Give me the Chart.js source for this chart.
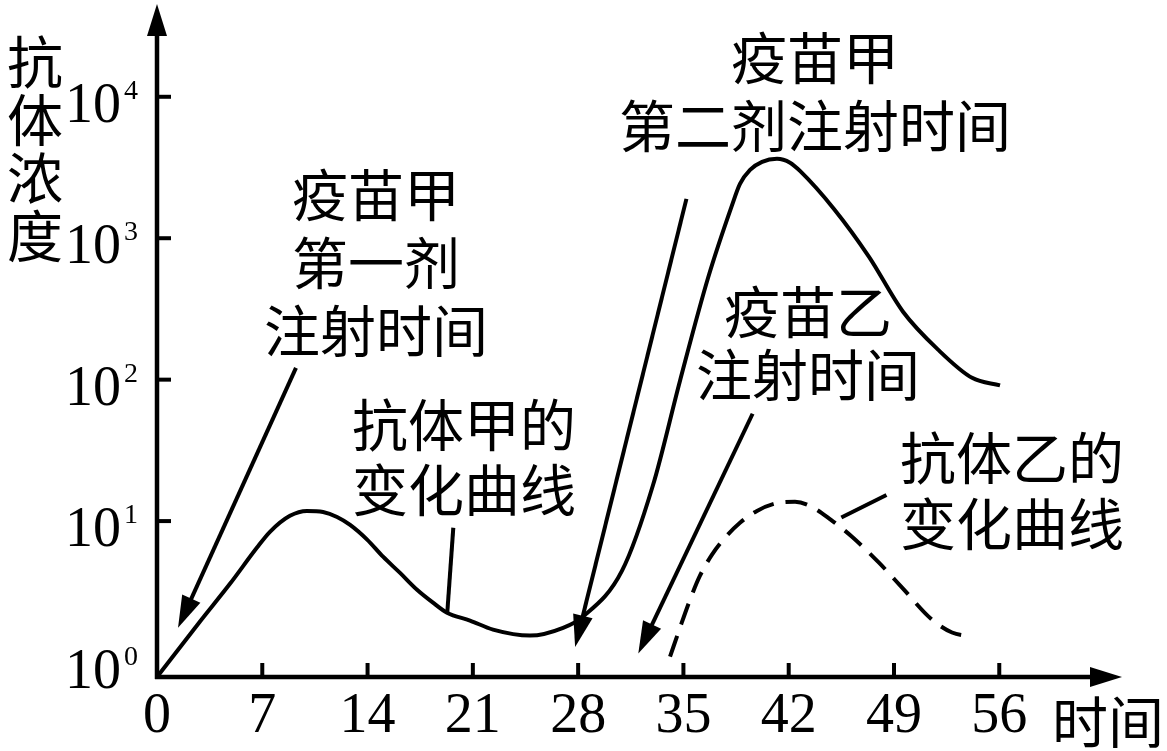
<!DOCTYPE html>
<html>
<head>
<meta charset="utf-8">
<script src="https://cdn.jsdelivr.net/npm/chart.js@4.4.1/dist/chart.umd.min.js"></script>
<style>
  html, body { margin: 0; padding: 0; background: #fff; }
  #wrap { width: 1167px; height: 751px; position: relative; }
</style>
</head>
<body>
<div id="wrap"><canvas id="chart"></canvas></div>
<script>
// axis ticks
const dayTicks = [0, 7, 14, 21, 28, 35, 42, 49, 56];
const concTicks = [1, 10, 100, 1000, 10000];

// antibody A (solid) - two doses of vaccine A
const daysA = [0, 2.86, 4.85, 6.65, 7.51, 8.84, 9.97, 11.04, 11.97, 12.84, 13.97, 15.03, 16.16, 17.29, 18.35,
  19.28, 20.81, 22.34, 24.8, 27.0, 28.32, 30.92, 32.98, 34.77, 36.64, 38.24, 38.76, 39.43, 40.23,
  41.22, 42.09, 42.75, 45.01, 47.34, 49.6, 51.93, 54.19, 56.05];
const antibodyA = [0.79, 1.95, 3.6, 6.5, 8.4, 10.9, 11.8, 11.6, 10.7, 9.4, 7.4, 5.6, 4.3, 3.27, 2.65,
  2.25, 1.98, 1.71, 1.55, 1.76, 2.11, 4.46, 18, 98, 525, 1720, 2420, 3040, 3465,
  3640, 3420, 2990, 1610, 738, 302, 163, 103, 91];

// antibody B (dashed) - vaccine B
const daysB = [34.11, 34.77, 35.44, 36.1, 36.9, 37.77, 38.76, 39.89, 41.09, 42.42, 43.42, 44.81, 46.21,
  48.0, 49.6, 51.46, 52.86, 54.19];
const antibodyB = [1.1, 1.76, 2.78, 4.11, 5.79, 7.63, 9.73, 11.8, 13.3, 13.7, 12.8, 10.2, 7.75,
  5.08, 3.33, 2.04, 1.63, 1.52];

// pointer arrows, in [day, concentration]
const arrowFrom = [[9.24, 121], [19.7, 8.97], [35.2, 1897], [39.6, 57.4], [45.5, 10.6]];
const arrowTo = [[1.40, 1.76], [19.3, 2.25], [27.8, 1.29], [32.0, 1.16], [48.5, 15.3]];
const arrowHead = [true, false, true, true, false];

// text notes (pixel layout)
const notes = [
  { lines: ["疫苗甲", "第一剂", "注射时间"], x: 376, y: 195, step: 68 },
  { lines: ["抗体甲的", "变化曲线"], x: 464, y: 425, step: 65 },
  { lines: ["疫苗甲", "第二剂注射时间"], x: 815, y: 58, step: 68 },
  { lines: ["疫苗乙", "注射时间"], x: 808, y: 312, step: 63 },
  { lines: ["抗体乙的", "变化曲线"], x: 1012, y: 458, step: 66 }
];

const CJK = '"Noto Sans CJK SC", "Noto Sans CJK JP", sans-serif';
const NUM = '"Liberation Serif", "DejaVu Serif", serif';

function toPoints(xs, ys) {
  return xs.map((x, i) => ({ x, y: ys[i] }));
}

function arrowLine(ctx, x1, y1, x2, y2, head) {
  const a = Math.atan2(y2 - y1, x2 - x1);
  const len = 32, hw = 10;
  const ex = head ? x2 - Math.cos(a) * (len - 4) : x2;
  const ey = head ? y2 - Math.sin(a) * (len - 4) : y2;
  ctx.beginPath();
  ctx.moveTo(x1, y1);
  ctx.lineTo(ex, ey);
  ctx.stroke();
  if (!head) return;
  const bx = x2 - Math.cos(a) * len, by = y2 - Math.sin(a) * len;
  ctx.beginPath();
  ctx.moveTo(x2, y2);
  ctx.lineTo(bx + Math.sin(a) * hw, by - Math.cos(a) * hw);
  ctx.lineTo(bx - Math.sin(a) * hw, by + Math.cos(a) * hw);
  ctx.closePath();
  ctx.fill();
}

const axesPlugin = {
  id: "axesAndNotes",
  afterDatasetsDraw(chart) {
    const { ctx, chartArea, scales } = chart;
    const xs = scales.x, ys = scales.y;
    const L = chartArea.left, B = chartArea.bottom;
    ctx.save();
    ctx.strokeStyle = "#000";
    ctx.fillStyle = "#000";
    ctx.lineWidth = 4.5;
    ctx.lineCap = "butt";

    // axes with arrow heads
    arrowLine(ctx, L, B + 2, L, chartArea.top, true);
    arrowLine(ctx, L - 2, B, chartArea.right, B, true);

    // x ticks + labels
    ctx.lineWidth = 4;
    ctx.font = "56px " + NUM;
    ctx.textAlign = "center";
    ctx.textBaseline = "alphabetic";
    dayTicks.forEach((d) => {
      const px = xs.getPixelForValue(d);
      if (d > 0) {
        ctx.beginPath();
        ctx.moveTo(px, B);
        ctx.lineTo(px, B - 14);
        ctx.stroke();
      }
      ctx.fillText(String(d), px, 732);
    });

    // y ticks + labels (10^n)
    concTicks.forEach((v) => {
      const py = ys.getPixelForValue(v);
      if (v > 1) {
        ctx.beginPath();
        ctx.moveTo(L, py);
        ctx.lineTo(L + 14, py);
        ctx.stroke();
      }
      const cy = py + 6;
      ctx.font = "56px " + NUM;
      ctx.textAlign = "right";
      ctx.fillText("10", 121, cy + 19);
      ctx.font = "28px " + NUM;
      ctx.textAlign = "left";
      ctx.fillText(String(Math.round(Math.log10(v))), 124, cy - 4);
    });

    // pointer arrows
    ctx.lineWidth = 4;
    arrowFrom.forEach((f, i) => {
      const t = arrowTo[i];
      arrowLine(ctx,
        xs.getPixelForValue(f[0]), ys.getPixelForValue(f[1]),
        xs.getPixelForValue(t[0]), ys.getPixelForValue(t[1]),
        arrowHead[i]);
    });

    // notes
    ctx.font = "56px " + CJK;
    ctx.textAlign = "center";
    ctx.textBaseline = "middle";
    notes.forEach((n) => {
      n.lines.forEach((s, k) => ctx.fillText(s, n.x, n.y + k * n.step));
    });

    // axis titles
    ["抗", "体", "浓", "度"].forEach((c, k) => ctx.fillText(c, 35, 62 + k * 58));
    ctx.fillText("时间", 1108, 722);
    ctx.restore();
  }
};

new Chart(document.getElementById("chart"), {
  type: "line",
  data: {
    datasets: [
      {
        label: "抗体甲",
        data: toPoints(daysA, antibodyA),
        borderColor: "#000",
        borderWidth: 4,
        pointRadius: 0,
        cubicInterpolationMode: "monotone",
        fill: false
      },
      {
        label: "抗体乙",
        data: toPoints(daysB, antibodyB),
        borderColor: "#000",
        borderWidth: 4,
        borderDash: [22, 12],
        pointRadius: 0,
        cubicInterpolationMode: "monotone",
        fill: false
      }
    ]
  },
  options: {
    responsive: true,
    maintainAspectRatio: false,
    animation: false,
    layout: { padding: { left: 157, right: 45, top: 4, bottom: 74 } },
    plugins: { legend: { display: false }, tooltip: { enabled: false } },
    scales: {
      x: { type: "linear", min: 0, max: 64.16, display: false },
      y: { type: "logarithmic", min: 0.79, max: 45290, display: false }
    }
  },
  plugins: [axesPlugin]
});
</script>
</body>
</html>
